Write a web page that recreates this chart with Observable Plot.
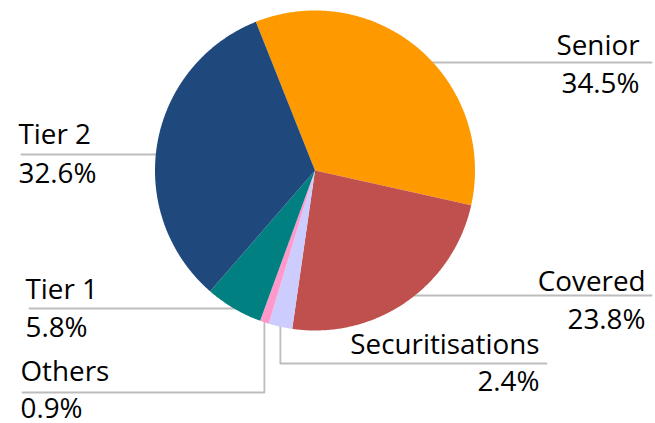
<!DOCTYPE html>
<html>
<head>
<meta charset="utf-8">
<script src="https://cdn.jsdelivr.net/npm/d3@7"></script>
<script src="https://cdn.jsdelivr.net/npm/@observablehq/plot@0.6"></script>
<style>
  html, body { margin: 0; padding: 0; background: #ffffff; }
  #chart svg { display: block; }
</style>
</head>
<body>
<div id="chart"></div>
<script>
// ---- data ----
const categories = ["Senior", "Covered", "Securitisations", "Others", "Tier 1", "Tier 2"];
const shares = [34.5, 23.8, 2.4, 0.9, 5.8, 32.6];
const colors = ["#FF9900", "#C0504D", "#CCCCFF", "#FF99CC", "#008080", "#1F497D"];

// ---- layout (pixel-space coordinates of the canvas) ----
const W = 655, H = 423;
const pie = {cx: 314.5, cy: 170, r: 160, startDeg: -21.7};
const labelLayout = {
  "Senior":          {anchor: "end",   textX: 639, nameY: 54,  pctY: 92,  lineY: 62,  lineEndX: 651, side: 1},
  "Covered":         {anchor: "end",   textX: 645, nameY: 290, pctY: 328, lineY: 295, lineEndX: 651, side: 1},
  "Securitisations": {anchor: "end",   textX: 539, nameY: 353, pctY: 390, lineY: 363, lineEndX: 546, elbow: true},
  "Others":          {anchor: "start", textX: 20,  nameY: 380, pctY: 417, lineY: 392, lineEndX: 22,  elbow: true},
  "Tier 1":          {anchor: "start", textX: 25,  nameY: 298, pctY: 336, lineY: 308, lineEndX: 29,  side: -1},
  "Tier 2":          {anchor: "start", textX: 18,  nameY: 143, pctY: 182, lineY: 154, lineEndX: 21,  side: -1}
};

// ---- geometry from data ----
const total = d3.sum(shares);
const rad = d => d * Math.PI / 180;
const slices = [];
let acc = pie.startDeg;
categories.forEach((name, i) => {
  const a0 = acc, a1 = acc + shares[i] / total * 360;
  acc = a1;
  slices.push({name, value: shares[i], a0, a1, mid: (a0 + a1) / 2});
});

const slicePts = [];
for (const s of slices) {
  slicePts.push({name: s.name, x: pie.cx, y: pie.cy});
  const n = Math.max(2, Math.ceil((s.a1 - s.a0) / 0.5));
  for (let k = 0; k <= n; k++) {
    const a = rad(s.a0 + (s.a1 - s.a0) * k / n);
    slicePts.push({name: s.name, x: pie.cx + pie.r * Math.sin(a), y: pie.cy - pie.r * Math.cos(a)});
  }
  slicePts.push({name: s.name, x: pie.cx, y: pie.cy});
}

const leaderPts = [];
const labels = [];
for (const s of slices) {
  const L = labelLayout[s.name];
  if (L.elbow) {
    const a = rad(s.mid);
    const px = pie.cx + pie.r * Math.sin(a), py = pie.cy - pie.r * Math.cos(a);
    leaderPts.push({name: s.name, x: px, y: py - 2});
    leaderPts.push({name: s.name, x: px, y: L.lineY});
    leaderPts.push({name: s.name, x: L.lineEndX, y: L.lineY});
  } else {
    const dy = L.lineY - pie.cy;
    const px = pie.cx + L.side * Math.sqrt(pie.r * pie.r - dy * dy);
    leaderPts.push({name: s.name, x: px - L.side * 2, y: L.lineY});
    leaderPts.push({name: s.name, x: L.lineEndX, y: L.lineY});
  }
  labels.push({name: s.name, pct: s.value.toFixed(1) + "%", ...L});
}
const leftLabels = labels.filter(d => d.anchor === "start");
const rightLabels = labels.filter(d => d.anchor === "end");

const font = "'Open Sans', 'DejaVu Sans', sans-serif";
const fs = 27.8;
const textMarks = [];
for (const [arr, anchor] of [[leftLabels, "start"], [rightLabels, "end"]]) {
  for (const field of [["name", "nameY"], ["pct", "pctY"]]) {
    textMarks.push(Plot.text(arr, {x: "textX", y: field[1], text: field[0], textAnchor: anchor,
      lineAnchor: "bottom", fontSize: fs, fill: "#000000", fontFamily: font}));
  }
}

const chart = Plot.plot({
  width: W,
  height: H,
  margin: 0,
  x: {domain: [0, W], range: [0, W], axis: null},
  y: {domain: [0, H], range: [0, H], axis: null},
  color: {domain: categories, range: colors},
  style: {fontFamily: font, background: "#ffffff"},
  marks: [
    Plot.line(leaderPts, {x: "x", y: "y", z: "name", stroke: "#BDBDBD", strokeWidth: 1.8, curve: "linear"}),
    Plot.line(slicePts, {x: "x", y: "y", z: "name", fill: "name", stroke: "none", curve: "linear"}),
    ...textMarks
  ]
});
document.getElementById("chart").appendChild(chart);
</script>
</body>
</html>
